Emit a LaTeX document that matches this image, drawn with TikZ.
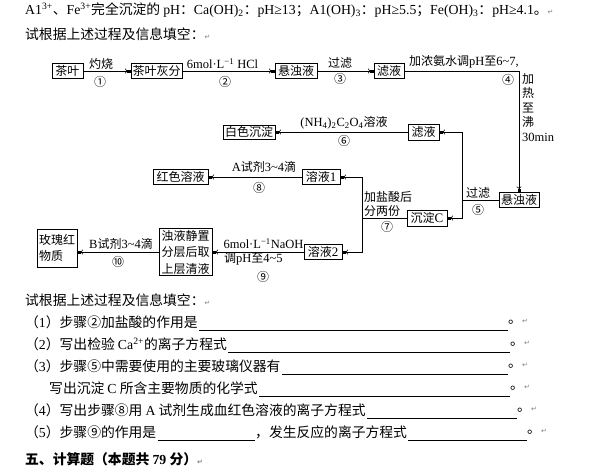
\documentclass[tikz,border=0pt]{standalone}
\usepackage{fontspec}
\setmainfont{Noto Sans CJK SC}
\newfontfamily\tnr{Liberation Serif}
\newfontfamily\djv{DejaVu Sans}
\usetikzlibrary{arrows.meta,calc}
\newcommand\fs[1]{\fontsize{#1}{#1}\selectfont}
\newcommand\lt[1]{{\tnr\fontsize{12.5}{12.5}\selectfont #1}}
\newcommand\ret{{\djv\color{gray}\fontsize{7}{7}\selectfont ↵}}
\begin{document}
\begin{tikzpicture}[x=1pt,y=-1pt,
  box/.style={draw,line width=0.8pt,inner sep=0pt,font=\fs{12}},
  flow/.style={line width=0.8pt,-{Straight Barb[length=1.5pt,width=4.5pt,line width=0.6pt]Rectangle[length=3.5pt,width=3pt]}},
  seg/.style={line width=0.8pt},
  lab/.style={inner sep=0pt,font=\fs{12}},
  txt/.style={inner sep=0pt,anchor=west,font=\fs{13.8}},
  uline/.style={line width=0.8pt}]
\useasboundingbox (0,0) rectangle (598,474);

% header text
\node[txt] (h1) at (25,10) {{\tnr A1\textsuperscript{3+}}、{\tnr Fe\textsuperscript{3+}}完全沉淀的 {\tnr pH}：{\tnr Ca(OH)\textsubscript{2}}：{\tnr pH≥13}；{\tnr A1(OH)\textsubscript{3}}：{\tnr pH≥5.5}；{\tnr Fe(OH)\textsubscript{3}}：{\tnr pH≥4.1}。\ret};
\node[txt] (h2) at (25,34) {试根据上述过程及信息填空：\ret};

% boxes
\node[box,minimum width=31,minimum height=15] (tea) at (67.5,71) {茶叶};
\node[box,minimum width=51,minimum height=15] (ash) at (156.5,71) {茶叶灰分};
\node[box,minimum width=42,minimum height=15] (sus1) at (296,71) {悬浊液};
\node[box,minimum width=30,minimum height=15] (fil1) at (389,71) {滤液};
\node[box,minimum width=40,minimum height=15] (sus2) at (519,200) {悬浊液};
\node[box,minimum width=31,minimum height=16] (fil2) at (423.5,132) {滤液};
\node[box,minimum width=52,minimum height=14] (white) at (249,132) {白色沉淀};
\node[box,minimum width=40,minimum height=16] (precC) at (427,218) {沉淀{\tnr\fs{13}C}};
\node[box,minimum width=38,minimum height=15] (sol1) at (321,177) {溶液{\tnr\fs{13}1}};
\node[box,minimum width=55,minimum height=15] (red) at (180.5,177) {红色溶液};
\node[box,minimum width=38,minimum height=15] (sol2) at (323,252) {溶液{\tnr\fs{13}2}};
\node[box,minimum width=53,minimum height=47,align=center,font=\fontsize{12}{16.5}\selectfont] (turb) at (185.5,252) {浊液静置\\分层后取\\上层清液};
\node[box,minimum width=40,minimum height=38,align=left,font=\fontsize{12}{16}\selectfont] (rose) at (57,248) {玫瑰红\\物质};

% connectors
\draw[flow] (tea) -- (ash);
\draw[flow] (ash) -- (sus1);
\draw[flow] (sus1) -- (fil1);
\draw[flow] (fil1.east) -| (sus2.north);
\coordinate (j5) at (462,200);
\draw[seg] (sus2.west) -- (j5);
\draw[flow] (j5) |- (fil2.east);
\draw[flow] (j5) |- (precC.east);
\draw[flow] (fil2.west) -- (white.east);
\coordinate (j7) at (362,218);
\draw[seg] (precC.west) -- (j7);
\draw[flow] (j7) |- (sol1.east);
\draw[flow] (j7) |- (sol2.east);
\draw[flow] (sol1.west) -- (red.east);
\draw[flow] (sol2.west) -- (turb.east);
\draw[flow] (turb.west) -- (turb.west -| rose.east);

% labels
\node[lab] (l1) at (101,64) {灼烧};
\node[lab] (n1) at (100,82) {①};
\node[lab] (l2) at (222.5,63.5) {\lt{6mol·L\textsuperscript{−1} HCl}};
\node[lab] (n2) at (225,82) {②};
\node[lab] (l3) at (340,63) {过滤};
\node[lab] (n3) at (340,79) {③};
\node[lab,anchor=west] (l4) at (409,62) {加浓氨水调\lt{pH}至\lt{6\textasciitilde7,}};
\node[lab] (n4) at (508,80) {④};
\node[lab,anchor=north west,align=left,font=\fontsize{12}{14.5}\selectfont] (l4b) at (522,73) {加\\热\\至\\沸\\\lt{30min}};
\node[lab] (l5) at (478,193) {过滤};
\node[lab] (n5) at (478,210) {⑤};
\node[lab] (l6) at (344,123) {\lt{(NH\textsubscript{4})\textsubscript{2}C\textsubscript{2}O\textsubscript{4}}溶液};
\node[lab] (n6) at (344,141) {⑥};
\node[lab,anchor=west] (l7a) at (364,197) {加盐酸后};
\node[lab,anchor=west] (l7b) at (364,211) {分两份};
\node[lab] (n7) at (387,227) {⑦};
\node[lab] (l8) at (264,167) {\lt{A}试剂\lt{3\textasciitilde4}滴};
\node[lab] (n8) at (259,188) {⑧};
\node[lab] (l9a) at (263.5,243.5) {\lt{6mol·L\textsuperscript{−1}NaOH}};
\node[lab,anchor=west] (l9b) at (224,259) {调\lt{pH}至\lt{4\textasciitilde5}};
\node[lab] (n9) at (263,277) {⑨};
\node[lab] (l10) at (121,244) {\lt{B}试剂\lt{3\textasciitilde4}滴};
\node[lab] (n10) at (118,262) {⑩};

% questions
\node[txt] (q0) at (25,300) {试根据上述过程及信息填空：\ret};
\node[txt] (q1) at (25,322) {（{\tnr 1}）步骤②加盐酸的作用是};
\draw[uline] let \p1=(q1.base east) in (\x1+1pt,\y1-3pt) -- (508pt,\y1-3pt);
\node[txt] (p1) at (508,322) {。\ret};
\node[txt] (q2) at (25,344) {（{\tnr 2}）写出检验 {\tnr Ca\textsuperscript{2+}}的离子方程式};
\draw[uline] let \p1=(q2.base east) in (\x1+1pt,\y1-3pt) -- (510pt,\y1-3pt);
\node[txt] (p2) at (510,344) {。\ret};
\node[txt] (q3) at (25,366) {（{\tnr 3}）步骤⑤中需要使用的主要玻璃仪器有};
\draw[uline] let \p1=(q3.base east) in (\x1+1pt,\y1-3pt) -- (508pt,\y1-3pt);
\node[txt] (p3) at (508,366) {。\ret};
\node[txt] (q3b) at (49,388) {写出沉淀 {\tnr C} 所含主要物质的化学式};
\draw[uline] let \p1=(q3b.base east) in (\x1+1pt,\y1-3pt) -- (510pt,\y1-3pt);
\node[txt] (p3b) at (510,388) {。\ret};
\node[txt] (q4) at (25,410) {（{\tnr 4}）写出步骤⑧用 {\tnr A} 试剂生成血红色溶液的离子方程式};
\draw[uline] let \p1=(q4.base east) in (\x1+1pt,\y1-3pt) -- (517pt,\y1-3pt);
\node[txt] (p4) at (517,410) {。\ret};
\node[txt] (q5) at (25,432) {（{\tnr 5}）步骤⑨的作用是};
\draw[uline] let \p1=(q5.base east) in (\x1+1pt,\y1-3pt) -- (255pt,\y1-3pt);
\node[txt] (q5b) at (255,432) {，发生反应的离子方程式};
\draw[uline] let \p1=(q5b.base east) in (\x1+1pt,\y1-3pt) -- (527pt,\y1-3pt);
\node[txt] (p5) at (527,432) {。\ret};
\node[txt,font=\fs{13.8}\bfseries] (q6) at (25,459) {五、计算题（本题共 {\tnr 79} 分）\ret};
\end{tikzpicture}
\end{document}
